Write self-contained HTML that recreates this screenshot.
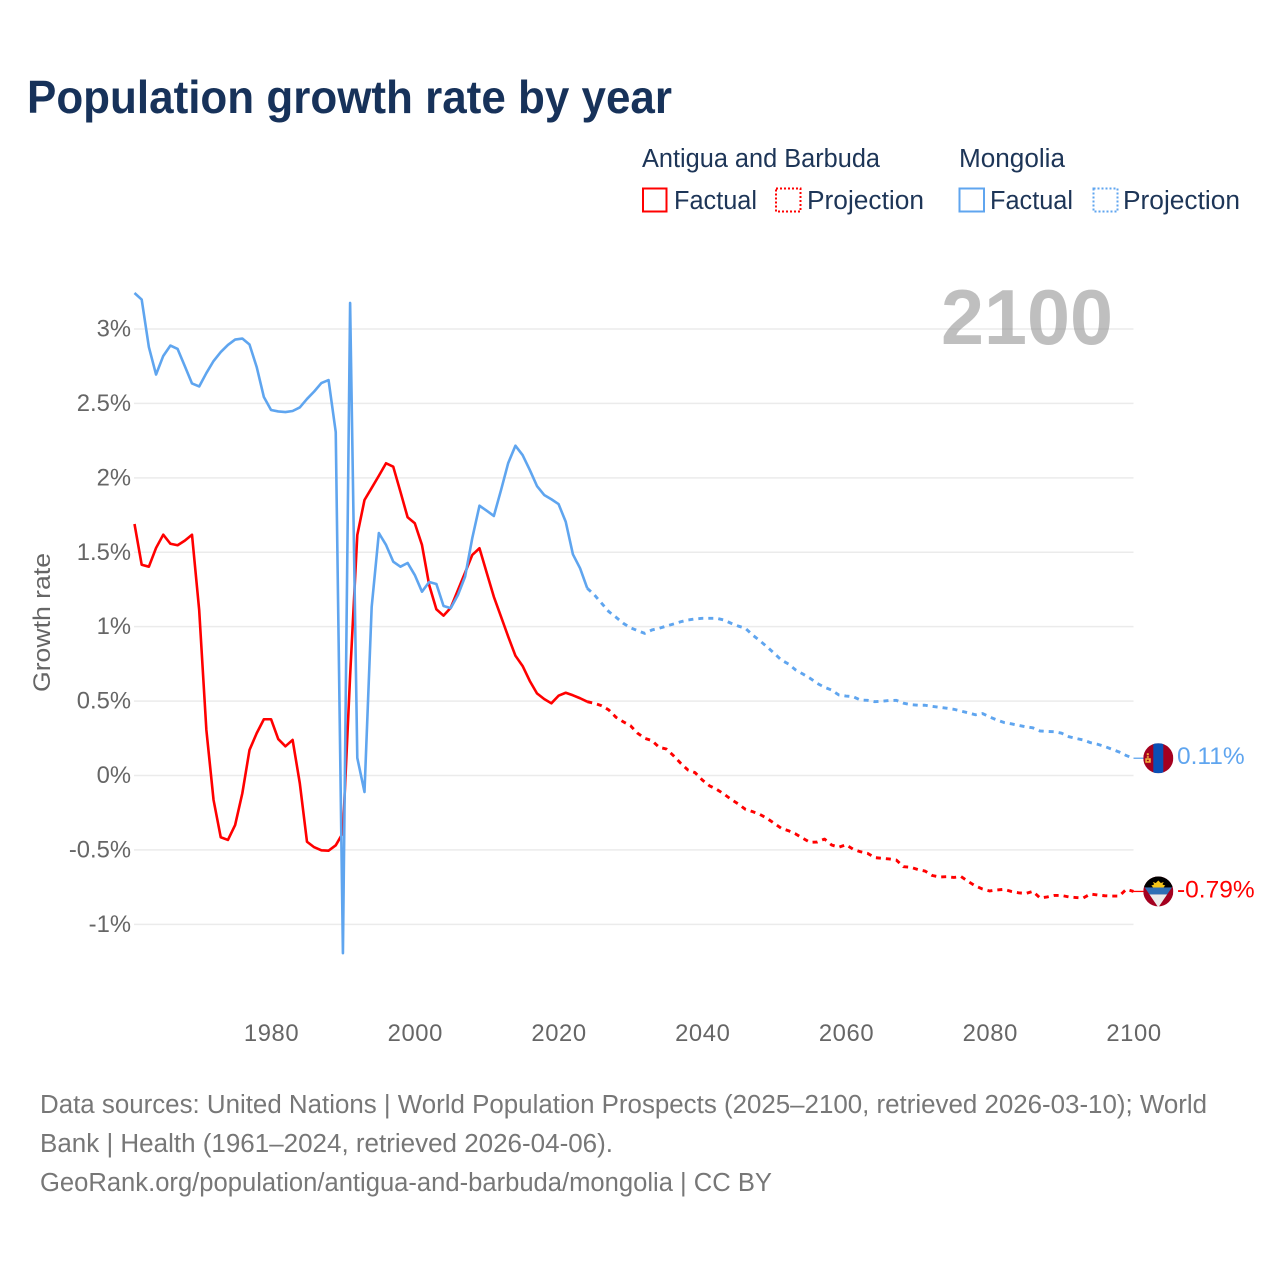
<!DOCTYPE html>
<html lang="en">
<head>
<meta charset="utf-8">
<title>Population growth rate by year</title>
<style>
html,body{margin:0;padding:0;background:#fff;}
svg{display:block;font-family:"Liberation Sans",sans-serif;}
</style>
</head>
<body>
<svg id="chart" xmlns="http://www.w3.org/2000/svg" width="1280" height="1280" viewBox="0 0 1280 1280">
  <rect width="1280" height="1280" fill="#fff"/>
  <text x="27" y="113" font-size="46.5" font-weight="700" fill="#17325a" textLength="645" lengthAdjust="spacingAndGlyphs">Population growth rate by year</text>

  <g font-size="25.5" fill="#1d3557">
    <text x="642" y="167" textLength="238" lengthAdjust="spacingAndGlyphs">Antigua and Barbuda</text>
    <text x="959" y="167" textLength="106" lengthAdjust="spacingAndGlyphs">Mongolia</text>
    <rect x="643" y="188.5" width="23.5" height="23" fill="none" stroke="#ff0000" stroke-width="2"/>
    <text x="674" y="209" textLength="83" lengthAdjust="spacingAndGlyphs">Factual</text>
    <rect x="776" y="188.5" width="24.5" height="23" fill="none" stroke="#ff0000" stroke-width="2" stroke-dasharray="2 2"/>
    <text x="807" y="209" textLength="117" lengthAdjust="spacingAndGlyphs">Projection</text>
    <rect x="959.5" y="188.5" width="24.5" height="23" fill="none" stroke="#5fa5ef" stroke-width="2"/>
    <text x="990" y="209" textLength="83" lengthAdjust="spacingAndGlyphs">Factual</text>
    <rect x="1093.5" y="188.5" width="24" height="23" fill="none" stroke="#5fa5ef" stroke-width="2" stroke-dasharray="2 2"/>
    <text x="1123" y="209" textLength="117" lengthAdjust="spacingAndGlyphs">Projection</text>
  </g>

  <g id="grid"></g>
  <text x="941" y="344" font-size="78" font-weight="700" fill="#808080" fill-opacity="0.5" textLength="172" lengthAdjust="spacingAndGlyphs">2100</text>
  <g id="yLabels" font-size="23.8" fill="#666" text-anchor="end"></g>
  <g id="xLabels" font-size="23.8" fill="#666" text-anchor="middle" letter-spacing="0.6"></g>
  <text transform="translate(50,692) rotate(-90)" font-size="24" fill="#666" textLength="139" lengthAdjust="spacingAndGlyphs">Growth rate</text>
  <g id="series"></g>

  <defs>
    <clipPath id="flagClipA"><circle cx="0" cy="0" r="15"/></clipPath>
    <clipPath id="vClip"><polygon points="-17,-17 17,-17 17,-9 0,16 -17,-9"/></clipPath>
  </defs>

  <g id="flagMongolia" clip-path="none">
    <g clip-path="url(#flagClipA)">
      <rect x="-15" y="-15" width="30" height="30" fill="#a4001f"/>
      <rect x="-5" y="-15" width="10" height="30" fill="#0a4fb5"/>
      <rect x="-11.5" y="-5" width="2" height="2" fill="#f3b23c"/>
      <rect x="-11.5" y="-2" width="2" height="1.5" fill="#f3b23c"/>
      <rect x="-13" y="0" width="5.5" height="4.5" fill="#f3b23c"/>
      <rect x="-11.5" y="1.5" width="2" height="1.5" fill="#a4001f"/>
    </g>
  </g>
  <g id="flagAntigua">
    <g clip-path="url(#flagClipA)">
      <rect x="-15" y="-15" width="30" height="30" fill="#a4001f"/>
      <g clip-path="url(#vClip)">
        <rect x="-17" y="-17" width="34" height="13" fill="#000"/>
        <rect x="-17" y="-4" width="34" height="7" fill="#2f6fb5"/>
        <rect x="-17" y="3" width="34" height="14" fill="#ececec"/>
      </g>
      <path d="M-5.5 -4 A5.5 5 0 0 1 5.5 -4 Z" fill="#f5c518"/>
      <path d="M-7 -6 L-4 -7 L-5.5 -9.5 L-2.5 -8.5 L0 -11 L2.5 -8.5 L5.5 -9.5 L4 -7 L7 -6 L5 -4 L-5 -4 Z" fill="#f5c518"/>
    </g>
  </g>
  <g id="endLabels" font-size="24.5"></g>

  <g font-size="25.5" fill="#777">
    <text x="40" y="1113" textLength="1167" lengthAdjust="spacingAndGlyphs">Data sources: United Nations | World Population Prospects (2025–2100, retrieved 2026-03-10); World</text>
    <text x="40" y="1152" textLength="573" lengthAdjust="spacingAndGlyphs">Bank | Health (1961–2024, retrieved 2026-04-06).</text>
    <text x="40" y="1191" textLength="732" lengthAdjust="spacingAndGlyphs">GeoRank.org/population/antigua-and-barbuda/mongolia | CC BY</text>
  </g>
</svg>

<script>
const xTicks = [1980, 2000, 2020, 2040, 2060, 2080, 2100];
const yTicks = [-1, -0.5, 0, 0.5, 1, 1.5, 2, 2.5, 3];
const factualStartYear = 1961;
const projectionStartYear = 2024;

const antiguaFactual = [1.690,1.416,1.403,1.529,1.618,1.557,1.547,1.578,1.618,1.112,
  0.306,-0.165,-0.415,-0.433,-0.333,-0.120,0.171,0.284,0.378,0.378,
  0.245,0.196,0.239,-0.052,-0.445,-0.482,-0.503,-0.505,-0.469,-0.386,
  0.669,1.616,1.851,1.932,2.014,2.098,2.075,1.907,1.735,1.695,
  1.549,1.280,1.117,1.074,1.127,1.246,1.363,1.482,1.527,1.363,
  1.201,1.067,0.933,0.805,0.736,0.635,0.552,0.514,0.485,0.536,
  0.556,0.539,0.519,0.496];

const antiguaProjection = [0.496,0.485,0.469,0.440,0.391,0.361,0.335,0.284,0.250,0.234,0.189,
  0.178,0.133,0.082,0.037,0.019,-0.030,-0.069,-0.093,-0.124,-0.160,
  -0.191,-0.227,-0.243,-0.261,-0.288,-0.321,-0.355,-0.371,-0.393,-0.422,
  -0.449,-0.447,-0.427,-0.467,-0.482,-0.465,-0.496,-0.512,-0.523,-0.552,
  -0.556,-0.561,-0.568,-0.613,-0.617,-0.632,-0.642,-0.672,-0.682,-0.680,
  -0.685,-0.679,-0.712,-0.742,-0.763,-0.776,-0.769,-0.765,-0.779,-0.788,
  -0.793,-0.778,-0.823,-0.816,-0.806,-0.806,-0.816,-0.820,-0.823,-0.796,
  -0.803,-0.808,-0.810,-0.810,-0.765,-0.779];

const mongoliaFactual = [3.242,3.198,2.879,2.694,2.819,2.889,2.866,2.751,2.634,2.614,
  2.704,2.785,2.845,2.893,2.929,2.936,2.896,2.745,2.543,2.456,
  2.446,2.442,2.449,2.473,2.530,2.580,2.637,2.657,2.308,-1.193,
  3.175,0.118,-0.111,1.132,1.629,1.549,1.437,1.403,1.428,1.347,
  1.235,1.300,1.287,1.139,1.125,1.213,1.336,1.596,1.813,1.779,
  1.744,1.918,2.100,2.216,2.153,2.053,1.945,1.885,1.856,1.824,
  1.705,1.486,1.392,1.258];

const mongoliaProjection = [1.258,1.213,1.157,1.101,1.063,1.023,0.993,0.973,0.955,0.978,0.989,
  1.004,1.018,1.033,1.045,1.052,1.056,1.056,1.056,1.045,1.023,
  1.004,0.989,0.944,0.906,0.865,0.821,0.776,0.749,0.709,0.682,
  0.653,0.619,0.593,0.574,0.541,0.534,0.529,0.507,0.505,0.496,
  0.499,0.504,0.505,0.486,0.476,0.472,0.472,0.464,0.458,0.452,
  0.445,0.433,0.421,0.408,0.416,0.393,0.373,0.356,0.347,0.337,
  0.327,0.320,0.299,0.296,0.294,0.284,0.261,0.249,0.239,0.221,
  0.210,0.195,0.176,0.158,0.134,0.116];

const endValueLabels = ["-0.79%", "0.11%"];

const NS = 'http://www.w3.org/2000/svg';
const RED = '#ff0000';
const BLUE = '#5fa5ef';

function xScale(year) { return 134.5 + (year - 1961) * (1133.5 - 134.5) / (2100 - 1961); }
function yScale(value) { return 775.5 - value * 148.83; }

function linePath(values, startYear) {
  return values.map(function (v, i) {
    return (i ? 'L' : 'M') + xScale(startYear + i).toFixed(2) + ' ' + yScale(v).toFixed(2);
  }).join(' ');
}

const grid = document.getElementById('grid');
const yLabels = document.getElementById('yLabels');
const xLabels = document.getElementById('xLabels');
const seriesGroup = document.getElementById('series');
const endLabels = document.getElementById('endLabels');

yTicks.forEach(function (t) {
  const line = document.createElementNS(NS, 'line');
  
  
  line.setAttribute('x1', 134);
  line.setAttribute('x2', 1133.5);
  line.setAttribute('y1', yScale(t));
  line.setAttribute('y2', yScale(t));
  line.setAttribute('stroke', '#ebebeb');
  line.setAttribute('stroke-width', 1.5);
  grid.appendChild(line);

  const label = document.createElementNS(NS, 'text');
  
  
  label.setAttribute('x', 131);
  label.setAttribute('y', yScale(t) + 7.5);
  label.textContent = t + '%';
  yLabels.appendChild(label);
});

xTicks.forEach(function (t) {
  const label = document.createElementNS(NS, 'text');
  
  
  label.setAttribute('x', xScale(t) + 0.5);
  label.setAttribute('y', 1041);
  label.textContent = t;
  xLabels.appendChild(label);
});

function addLine(name, values, startYear, color, width, dash) {
  const p = document.createElementNS(NS, 'path');
  
  
  p.setAttribute('d', linePath(values, startYear));
  p.setAttribute('fill', 'none');
  p.setAttribute('stroke', color);
  p.setAttribute('stroke-width', width);
  p.setAttribute('stroke-linejoin', 'round');
  if (dash) p.setAttribute('stroke-dasharray', dash);
  seriesGroup.appendChild(p);
}

addLine('antigua-factual-line', antiguaFactual, factualStartYear, RED, 2.6, null);
addLine('antigua-projection-line', antiguaProjection, projectionStartYear, RED, 2.9, '5 5');
addLine('mongolia-factual-line', mongoliaFactual, factualStartYear, BLUE, 2.6, null);
addLine('mongolia-projection-line', mongoliaProjection, projectionStartYear, BLUE, 2.9, '5 5');

function addEnd(series, color, flagId, text, connectorName, labelName) {
  const last = series[series.length - 1];
  const yEnd = yScale(last);
  const c = document.createElementNS(NS, 'line');
  
  
  c.setAttribute('x1', xScale(2100));
  c.setAttribute('x2', 1144);
  c.setAttribute('y1', yEnd);
  c.setAttribute('y2', yEnd);
  c.setAttribute('stroke', color);
  c.setAttribute('stroke-width', 1.3);
  seriesGroup.appendChild(c);

  document.getElementById(flagId).setAttribute('transform', 'translate(1158.3,' + yEnd + ')');

  const t = document.createElementNS(NS, 'text');
  
  
  t.setAttribute('x', 1177);
  t.setAttribute('y', yEnd + 6);
  t.setAttribute('fill', color);
  t.textContent = text;
  endLabels.appendChild(t);
}

addEnd(antiguaProjection, RED, 'flagAntigua', endValueLabels[0], 'antigua-end-connector', 'antigua-end-label');
addEnd(mongoliaProjection, BLUE, 'flagMongolia', endValueLabels[1], 'mongolia-end-connector', 'mongolia-end-label');
</script>
</body>
</html>
